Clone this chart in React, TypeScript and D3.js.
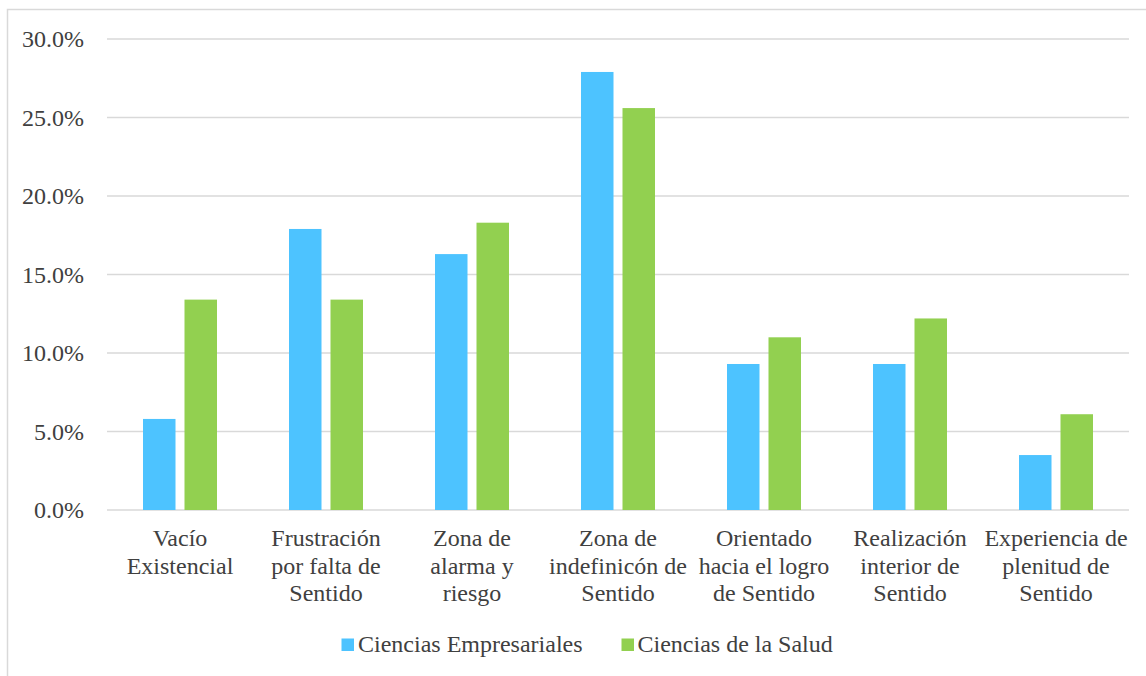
import React from "react";
import * as d3 from "d3";

const categories: string[][] = [
  ["Vacío", "Existencial"],
  ["Frustración", "por falta de", "Sentido"],
  ["Zona de", "alarma y", "riesgo"],
  ["Zona de", "indefinicón de", "Sentido"],
  ["Orientado", "hacia el logro", "de Sentido"],
  ["Realización", "interior de", "Sentido"],
  ["Experiencia de", "plenitud de", "Sentido"],
];
const seriesNames = ["Ciencias Empresariales", "Ciencias de la Salud"];
const empresariales = [5.8, 17.9, 16.3, 27.9, 9.3, 9.3, 3.5];
const salud = [13.4, 13.4, 18.3, 25.6, 11.0, 12.2, 6.1];
const yTicks = [0, 5, 10, 15, 20, 25, 30];
const colors = ["#4DC3FF", "#92D050"];

export default function App() {
  const W = 1146, H = 676;
  const left = 107, right = 1129, top = 39, bottom = 510;
  const x = d3.scaleBand<number>().domain(d3.range(categories.length)).range([left, right]);
  const y = d3.scaleLinear().domain([0, 30]).range([bottom, top]);
  const barW = 32.5;
  const gap = 9;
  const series = [empresariales, salud];
  const font = '"Liberation Serif", "Times New Roman", serif';
  const textColor = "#404040";
  const ts = { fontFamily: font, fontSize: "24px", fill: textColor };
  return (
    <svg width={W} height={H} style={{ position: "absolute", left: 0, top: 0, background: "#fff" }}>
      <rect x={7.5} y={9.5} width={W} height={H} fill="#fff" stroke="#d9d9d9" strokeWidth={1.5} />
      {yTicks.map((t) => (
        <g key={t}>
          <line x1={left} x2={right} y1={y(t)} y2={y(t)} stroke="#d9d9d9" strokeWidth={1.5} />
          <text x={84} y={y(t) + 8} textAnchor="end" style={ts}>
            {t.toFixed(1) + "%"}
          </text>
        </g>
      ))}
      {series.map((vals, si) =>
        vals.map((v, i) => {
          const c = x(i)! + x.bandwidth() / 2;
          const x0 = si === 0 ? c - gap / 2 - barW : c + gap / 2;
          return (
            <rect key={si + "-" + i} x={x0} y={y(v)} width={barW} height={y(0) - y(v)} fill={colors[si]} />
          );
        })
      )}
      {categories.map((lines, i) => (
        <text key={i} x={x(i)! + x.bandwidth() / 2} y={546} textAnchor="middle" style={ts}>
          {lines.map((l, j) => (
            <tspan key={j} x={x(i)! + x.bandwidth() / 2} y={546 + j * 27.5}>{l}</tspan>
          ))}
        </text>
      ))}
      <g>
        <rect x={341.5} y={638.5} width={12.5} height={12.5} fill={colors[0]} />
        <text x={358} y={652} style={ts}>{seriesNames[0]}</text>
        <rect x={621.5} y={638.5} width={12.5} height={12.5} fill={colors[1]} />
        <text x={637.5} y={652} style={ts}>{seriesNames[1]}</text>
      </g>
    </svg>
  );
}
